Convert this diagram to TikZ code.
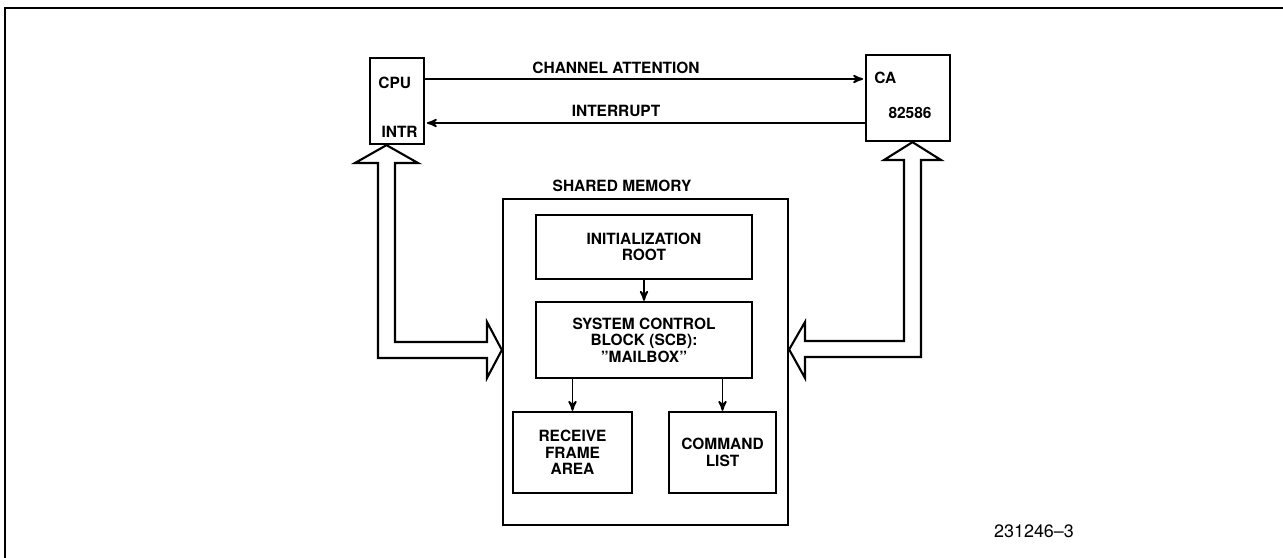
\documentclass[tikz,border=0pt]{standalone}
\usepackage{fontspec}
\setmainfont{TeX Gyre Heros}[Ligatures=ResetAll]
\usetikzlibrary{arrows,calc}
\tikzset{
>=stealth',
  unit/.style={
    rectangle,
    draw=black, line width=1.3pt,
    inner sep=0pt,
    font=\bfseries\fontsize{8.8}{9.4}\selectfont,
    align=center},
  tag/.style={font=\bfseries\fontsize{8.8}{9.4}\selectfont, inner sep=0pt},
  sig/.style={draw, line width=1pt, ->, shorten >=1pt},
  link/.style={draw, line width=1pt, ->},
  bus/.style={draw, line width=1.2pt, fill=white, line join=miter},
}
\begin{document}
\begin{tikzpicture}[x=0.2mm,y=-0.2mm]
  \useasboundingbox (0,0) rectangle (1283,558);
  \draw[line width=1.5pt] (1283,8) -- (5,8) -- (5,558);
  % processors
  \node[unit, minimum width=10.8mm, minimum height=17.2mm] (cpu) at (397,101) {};
  \node[unit, minimum width=16.8mm, minimum height=17.2mm] (ca) at (908,98) {};
  \node[tag, anchor=west] (cpu-name) at (378,83) {CPU};
  \node[tag, anchor=east] (intr) at (418,132) {INTR};
  \node[tag, anchor=west] (ca-name) at (874,78) {CA};
  \node[tag] (chip) at (910,113) {82586};
  \draw[sig] (cpu.east |- 0,79) -- (ca.west |- 0,79);
  \draw[sig] (ca.west |- 0,123) -- (cpu.east |- 0,123);
  \node[tag] (ca-label) at (616,68) {CHANNEL ATTENTION};
  \node[tag] (intr-label) at (616,111) {INTERRUPT};
  % shared memory
  \node[unit, minimum width=57mm, minimum height=65.2mm] (shm) at (645.5,362) {};
  \node[tag] (shm-label) at (622,186) {SHARED MEMORY};
  \node[unit, minimum width=43.2mm, minimum height=12.8mm] (init) at (644,247) {INITIALIZATION\\ROOT};
  \node[unit, minimum width=43.2mm, minimum height=15.2mm] (scb) at (644,340) {SYSTEM CONTROL\\BLOCK (SCB):\\"MAILBOX"};
  \node[unit, minimum width=23.8mm, minimum height=16.2mm] (rfa) at (572.5,452.5) {RECEIVE\\FRAME\\AREA};
  \node[unit, minimum width=21.4mm, minimum height=16.2mm] (cmd) at (722.5,452.5) {COMMAND\\LIST};
  \draw[link] (init) -- (scb);
  \draw[link] (rfa.north |- scb.south) -- (rfa);
  \draw[link] (cmd.north |- scb.south) -- (cmd);
  % buses
  \draw[bus] (cpu.south -| 386.5,0) -- (418,163) -- (395,163) -- (395,342) -- (487,342) -- (487,322)
    -- (shm.west |- 0,350) -- (487,378) -- (487,358) -- (378,358) -- (378,163) -- (355,163) -- cycle;
  \draw[bus] (ca.south -| 912.5,0) -- (941,160) -- (921,160) -- (921,357) -- (805,357) -- (805,378)
    -- (shm.east |- 0,349.5) -- (805,322) -- (805,341) -- (904,341) -- (904,160) -- (884,160) -- cycle;
  \node[font=\fontsize{10.2}{11}\selectfont, inner sep=0pt] (fig-id) at (1034,531) {231246–3};
\end{tikzpicture}
\end{document}
